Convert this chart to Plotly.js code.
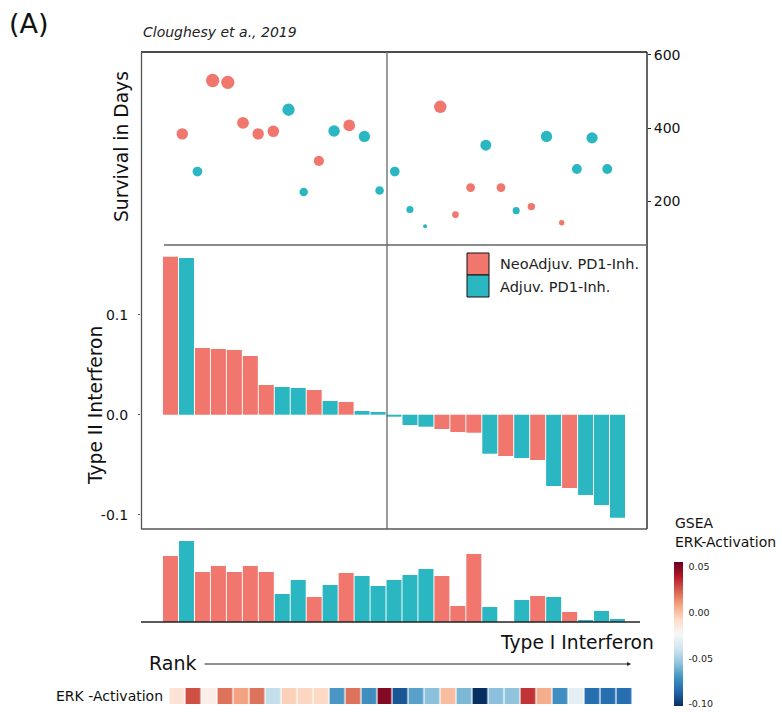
<!DOCTYPE html>
<html><head><meta charset="utf-8">
<script src="https://cdn.plot.ly/plotly-3.0.1.min.js"></script>
<style>html,body{margin:0;padding:0;background:#fff}#chart{width:782px;height:712px}</style>
</head><body><div id="chart"></div>
<script>
// ---- data (rank order along Type I/II interferon) ----
const rank = [1,2,3,4,5,6,7,8,9,10,11,12,13,14,15,16,17,18,19,20,21,22,23,24,25,26,27,28,29];
const group = ['Neo','Adj','Neo','Neo','Neo','Neo','Neo','Adj','Adj','Neo','Adj','Neo','Adj','Adj','Adj',
               'Adj','Adj','Neo','Neo','Neo','Adj','Neo','Adj','Neo','Adj','Neo','Adj','Adj','Adj'];
const survivalDays = [384,281,530,525,414,384,391,450,225,310,392,407,377,229,281,
                      177,131,458,163,237,353,237,174,185,377,141,288,373,288];
const typeII = [0.158,0.1567,0.0667,0.0657,0.0647,0.0587,0.0297,0.0277,0.0267,0.0247,0.0137,0.0127,0.0037,0.0027,-0.002,
                -0.0103,-0.012,-0.0143,-0.0173,-0.018,-0.039,-0.0413,-0.0433,-0.0453,-0.0713,-0.0733,-0.0803,-0.0903,-0.103];
const typeI = [0.66,0.81,0.50,0.56,0.50,0.56,0.50,0.28,0.42,0.25,0.37,0.49,0.46,0.36,0.42,
               0.47,0.53,0.46,0.16,0.68,0.15,0.0,0.22,0.26,0.25,0.10,0.02,0.11,0.03];
const erk = [-0.012,0.028,-0.018,0.020,0.009,0.020,-0.042,-0.004,-0.006,-0.007,-0.069,0.020,-0.072,0.050,-0.091,
             -0.066,-0.056,0.002,-0.059,-0.102,-0.056,-0.055,0.034,0.006,-0.072,-0.031,-0.083,-0.083,-0.083];
const groupNames = {Neo:'NeoAdjuv. PD1-Inh.', Adj:'Adjuv. PD1-Inh.'};
const yTicksSurv = [200,400,600];
const yTicksII = [-0.1,0,0.1], yTickTextII = ['-0.1','0.0','0.1'];
const cbTicks = [-0.1,-0.05,0,0.05], cbTickText = ['-0.10','-0.05','0.00','0.05'];

// ---- style ----
const RED = '#F0766E', TEAL = '#2BB7C1';
const colorOf = g => g === 'Neo' ? RED : TEAL;
const FONT = 'DejaVu Sans, Liberation Sans, Arial, sans-serif';
const W = 782, H = 712;
const X = p => p / W, Y = p => 1 - p / H;
const sMin = Math.min(...survivalDays), sMax = Math.max(...survivalDays);
const sizes = survivalDays.map(s => 4 + 9.3 * Math.sqrt((s - sMin) / (sMax - sMin)));
const colors = group.map(colorOf);
const rdbu = [[0,'#053061'],[0.1,'#2166ac'],[0.2,'#4393c3'],[0.3,'#92c5de'],[0.4,'#d1e5f0'],[0.5,'#f7f7f7'],
              [0.6,'#fddbc7'],[0.7,'#f4a582'],[0.8,'#d6604d'],[0.9,'#b2182b'],[1,'#67001f']];

const traces = [
  {type:'scatter', mode:'markers', x:rank, y:survivalDays, xaxis:'x', yaxis:'y',
   marker:{color:colors, size:sizes, opacity:1, line:{width:0}}, showlegend:false, hoverinfo:'skip'},
  {type:'bar', x:rank, y:typeII, xaxis:'x2', yaxis:'y2', marker:{color:colors, line:{width:0}},
   showlegend:false, hoverinfo:'skip'},
  {type:'bar', x:rank, y:typeI, xaxis:'x3', yaxis:'y3', marker:{color:colors, line:{width:0}},
   showlegend:false, hoverinfo:'skip'},
  {type:'heatmap', x:rank, y:['ERK'], z:[erk], xaxis:'x4', yaxis:'y4', colorscale:rdbu,
   zmin:-0.102, zmax:0.056, xgap:1.2, ygap:0, hoverinfo:'skip',
   colorbar:{x:X(674), xanchor:'left', xpad:0, y:Y(705.7), yanchor:'bottom', ypad:0,
     len:144, lenmode:'pixels', thickness:9, thicknessmode:'pixels', outlinewidth:0,
     tickvals:cbTicks, ticktext:cbTickText, tickfont:{family:FONT, size:9.5, color:'#222'},
     ticks:'outside', ticklen:4, tickcolor:'rgba(0,0,0,0)', title:{text:''}}}
];

const xd = [X(141), X(647)];
const hidden = {visible:false, showgrid:false, zeroline:false, fixedrange:true};
const layout = {
  width:W, height:H, margin:{l:0,r:0,t:0,b:0}, paper_bgcolor:'#fff', plot_bgcolor:'rgba(0,0,0,0)',
  font:{family:FONT, color:'#111'}, bargap:0.06, showlegend:false,
  xaxis:Object.assign({domain:xd, range:[-1.72,31.62], anchor:'y'}, hidden),
  yaxis:{domain:[Y(245),Y(52)], range:[80,608], anchor:'x', side:'right', tickvals:yTicksSurv,
    ticks:'outside', ticklen:3, tickcolor:'#222', showgrid:false, zeroline:false, showline:false,
    tickfont:{family:FONT, size:14, color:'#111'}, automargin:false},
  xaxis2:Object.assign({domain:xd, range:[-0.848,30.848], anchor:'y2'}, hidden),
  yaxis2:{domain:[Y(529),Y(245)], range:[-0.1143,0.1697], anchor:'x2', tickvals:yTicksII, ticktext:yTickTextII,
    ticks:'outside', ticklen:2, tickcolor:'#555', showgrid:false, zeroline:false, showline:false,
    ticklabelstandoff:7, tickfont:{family:FONT, size:14, color:'#111'}, automargin:false},
  xaxis3:Object.assign({domain:xd, range:[-0.848,30.848], anchor:'y3'}, hidden),
  yaxis3:Object.assign({domain:[Y(622),Y(537)], range:[0,0.85], anchor:'x3'}, hidden),
  xaxis4:Object.assign({domain:xd, range:[-1.287,30.41], anchor:'y4'}, hidden),
  yaxis4:Object.assign({domain:[Y(704),Y(688)], anchor:'x4'}, hidden),
  shapes:[
    // panel frame
    {type:'line', xref:'paper', yref:'paper', x0:X(141), x1:X(647), y0:Y(52), y1:Y(52), line:{color:'#111', width:1.3}},
    {type:'line', xref:'paper', yref:'paper', x0:X(647), x1:X(647), y0:Y(52), y1:Y(529), line:{color:'#111', width:1.3}},
    {type:'line', xref:'paper', yref:'paper', x0:X(141.5), x1:X(141.5), y0:Y(52), y1:Y(529), line:{color:'#555', width:1.3}},
    {type:'line', xref:'paper', yref:'paper', x0:X(141), x1:X(647), y0:Y(529), y1:Y(529), line:{color:'#555', width:1.5}},
    // dividers
    {type:'line', xref:'paper', yref:'paper', x0:X(164), x1:X(647), y0:Y(245), y1:Y(245), line:{color:'#666', width:1.3}},
    {type:'line', xref:'paper', yref:'paper', x0:X(387), x1:X(387), y0:Y(52), y1:Y(529), line:{color:'#666', width:1.3}},
    // baseline of type I bars
    {type:'line', xref:'paper', yref:'paper', x0:X(141), x1:X(640), y0:Y(622), y1:Y(622), line:{color:'#222', width:1.5}},
    // legend keys
    {type:'rect', xref:'paper', yref:'paper', x0:X(467), x1:X(489), y0:Y(275), y1:Y(253), fillcolor:RED, line:{color:'#111', width:1}},
    {type:'rect', xref:'paper', yref:'paper', x0:X(467), x1:X(489), y0:Y(297), y1:Y(275), fillcolor:TEAL, line:{color:'#111', width:1}}
  ],
  annotations:[
    {text:'(A)', xref:'paper', yref:'paper', x:X(7), y:Y(24), xanchor:'left', yanchor:'middle', showarrow:false, font:{size:27, color:'#111'}},
    {text:'Cloughesy et a., 2019', xref:'paper', yref:'paper', x:X(141), y:Y(32), xanchor:'left', yanchor:'middle', showarrow:false, font:{size:14, style:'italic', color:'#222'}},
    {text:'Survival in Days', xref:'paper', yref:'paper', x:X(121), y:Y(147), xanchor:'center', yanchor:'middle', textangle:-90, showarrow:false, font:{size:18.7, color:'#111'}},
    {text:'Type II Interferon', xref:'paper', yref:'paper', x:X(95), y:Y(406), xanchor:'center', yanchor:'middle', textangle:-90, showarrow:false, font:{size:18.7, color:'#111'}},
    {text:'Type I Interferon', xref:'paper', yref:'paper', x:X(656), y:Y(642), xanchor:'right', yanchor:'middle', showarrow:false, font:{size:18.7, color:'#111'}},
    {text:'Rank', xref:'paper', yref:'paper', x:X(147), y:Y(663), xanchor:'left', yanchor:'middle', showarrow:false, font:{size:19, color:'#111'}},
    {text:'', xref:'paper', yref:'paper', x:X(631), y:Y(664), axref:'paper', ayref:'paper', ax:X(203), ay:Y(664), showarrow:true, arrowhead:2, arrowsize:0.8, arrowwidth:1, arrowcolor:'#222', standoff:0, startstandoff:0},
    {text:'ERK -Activation', xref:'paper', yref:'paper', x:X(165), y:Y(696), xanchor:'right', yanchor:'middle', showarrow:false, font:{size:14, color:'#111'}},
    {text:groupNames.Neo, xref:'paper', yref:'paper', x:X(498), y:Y(264), xanchor:'left', yanchor:'middle', showarrow:false, font:{size:14.5, color:'#222'}},
    {text:groupNames.Adj, xref:'paper', yref:'paper', x:X(498), y:Y(287), xanchor:'left', yanchor:'middle', showarrow:false, font:{size:14.5, color:'#222'}},
    {text:'GSEA', xref:'paper', yref:'paper', x:X(673), y:Y(523), xanchor:'left', yanchor:'middle', showarrow:false, font:{size:14, color:'#111'}},
    {text:'ERK-Activation', xref:'paper', yref:'paper', x:X(673), y:Y(542), xanchor:'left', yanchor:'middle', showarrow:false, font:{size:14, color:'#111'}}
  ]
};
Plotly.newPlot('chart', traces, layout, {displayModeBar:false, staticPlot:true});
</script></body></html>
